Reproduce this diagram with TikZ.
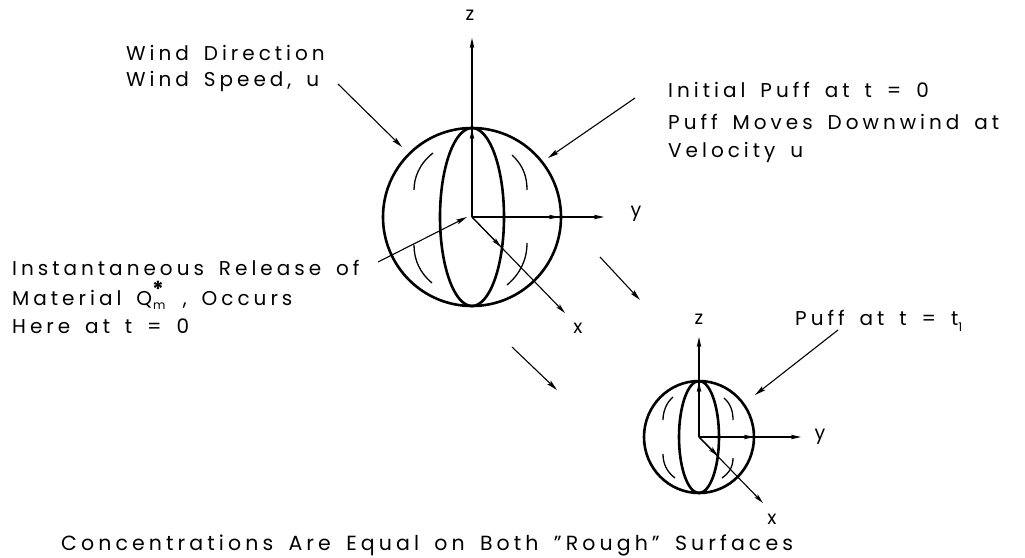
\documentclass[tikz,border=0pt]{standalone}
\usepackage{fontspec}
\setmainfont{Poppins}[LetterSpace=20,WordSpace=1.6]
\usetikzlibrary{arrows.meta}
\begin{document}
\begin{tikzpicture}[x=1pt,y=-1pt,
  lbl/.style={anchor=base west,inner sep=0pt,font=\fontsize{20}{23}\selectfont},
  axlbl/.style={anchor=center,inner sep=0pt,font=\fontsize{19}{22}\selectfont},
  shell/.style={line width=2.6pt},
  hatch/.style={line width=1.3pt},
  arr/.style={line width=1.1pt,-{Stealth[length=11pt,width=5pt,inset=2pt]}},
  axis/.style={line width=1.1pt,-{Stealth[length=10pt,width=4.5pt,inset=2pt]}},
]
\useasboundingbox (0,0) rectangle (1025,557);

% ---- initial puff ----
\coordinate (O1) at (472,217);
\draw[shell] (O1) circle [radius=89];
\draw[shell] (472,217) ellipse [x radius=32, y radius=89];
\draw[hatch] (433,153) .. controls (419,164) and (414,178) .. (414,190);
\draw[hatch] (512,155) .. controls (524,166) and (527,178) .. (527,190);
\draw[hatch] (414,245) .. controls (414,260) and (420,273) .. (432,283);
\draw[hatch] (527,243) .. controls (527,260) and (520,274) .. (507,285);

\coordinate (Z1m) at (472,129);
\coordinate (Z1) at (472,38);
\coordinate (Y1m) at (559,217);
\coordinate (Y1) at (604,217);
\coordinate (X1m) at (501,247);
\coordinate (X1) at (565,313);
\draw[axis] (O1) -- (Z1m);
\draw[axis] (O1) -- (Z1);
\draw[axis] (O1) -- (Y1m);
\draw[axis] (O1) -- (Y1);
\draw[axis] (O1) -- (X1m);
\draw[axis] (O1) -- (X1);
\node[axlbl] (z1) at (470,15) {z};
\node[axlbl] (y1) at (636,214) {y};
\node[axlbl] (x1) at (578,328) {x};

% ---- puff at t1 ----
\coordinate (O2) at (699,437);
\draw[shell] (O2) circle [x radius=55, y radius=56];
\draw[shell] (699,437) ellipse [x radius=20, y radius=56];
\draw[hatch] (673,397) .. controls (666,403) and (663,412) .. (663,420);
\draw[hatch] (724,398) .. controls (731,404) and (733,412) .. (733,420);
\draw[hatch] (663,454) .. controls (663,464) and (667,472) .. (675,478);
\draw[hatch] (733,458) .. controls (733,467) and (729,473) .. (722,478);

\coordinate (Z2m) at (699,382);
\coordinate (Z2) at (699,337);
\coordinate (Y2m) at (754,437);
\coordinate (Y2) at (801,437);
\coordinate (X2m) at (718,456);
\coordinate (X2) at (763,503);
\draw[axis] (O2) -- (Z2m);
\draw[axis] (O2) -- (Z2);
\draw[axis] (O2) -- (Y2m);
\draw[axis] (O2) -- (Y2);
\draw[axis] (O2) -- (X2m);
\draw[axis] (O2) -- (X2);
\node[axlbl] (z2) at (699,319) {z};
\node[axlbl] (y2) at (820,437) {y};
\node[axlbl] (x2) at (772,519) {x};

% ---- labels ----
\node[lbl] (wdir) at (126,60) {Wind Direction};
\node[lbl] (wspd) at (126,86) {Wind Speed, u};
\node[lbl] (init) at (668,97) {Initial Puff at t = 0};
\node[lbl] (moves) at (668,129) {Puff Moves Downwind at};
\node[lbl] (vel) at (668,157) {Velocity u};
\node[lbl] (rel1) at (12,275) {Instantaneous Release of};
\node[lbl] (rel2) at (12,305) {Material Q\makebox[0pt][l]{\hspace{1pt}\raisebox{-4pt}{\fontsize{12}{12}\selectfont m}}\raisebox{8pt}{\fontsize{22}{22}\selectfont\bfseries *}\hspace{4pt} , Occurs};
\node[lbl] (rel3) at (12,333) {Here at t = 0};
\node[lbl] (puff1) at (795,325) {Puff at t = t\raisebox{-6pt}{\fontsize{12}{12}\selectfont 1}};
\node[lbl,font=\fontsize{20.5}{23}\selectfont] (conc) at (61,550) {Concentrations Are Equal on Both ''Rough'' Surfaces};

% ---- pointers and motion ----
\coordinate (wtail) at (338,84);
\coordinate (wtip) at (402,147);
\coordinate (itail) at (635,98);
\coordinate (itip) at (548,158);
\coordinate (rtail) at (378,262);
\coordinate (rtip) at (467,217);
\coordinate (ptail) at (838,330);
\coordinate (ptip) at (755,395);
\coordinate (m1a) at (600,257);
\coordinate (m1b) at (640,300);
\coordinate (m2a) at (512,347);
\coordinate (m2b) at (557,390);
\draw[arr] (wtail) -- (wtip);
\draw[arr] (itail) -- (itip);
\draw[arr] (rtail) -- (rtip);
\draw[arr] (ptail) -- (ptip);
\draw[arr] (m1a) -- (m1b);
\draw[arr] (m2a) -- (m2b);
\end{tikzpicture}
\end{document}
